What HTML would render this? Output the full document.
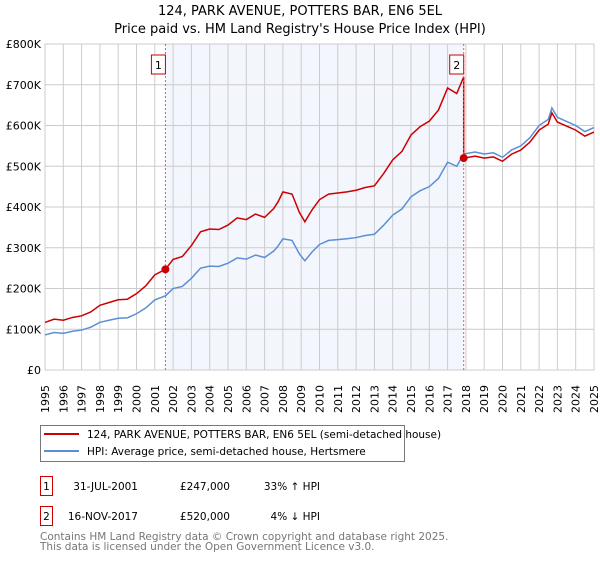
<!DOCTYPE html>
<html><head><meta charset="utf-8"><style>
body{margin:0;background:#fff;}
svg text{font-family:"DejaVu Sans","Liberation Sans",sans-serif;}
</style></head><body>
<svg width="600" height="560" xmlns="http://www.w3.org/2000/svg">
<text x="300" y="15" font-size="13" text-anchor="middle">124, PARK AVENUE, POTTERS BAR, EN6 5EL</text>
<text x="300" y="33" font-size="13" text-anchor="middle">Price paid vs. HM Land Registry's House Price Index (HPI)</text>
<g id="plot"></g>
<g>
<rect x="40.5" y="425.5" width="364" height="36" fill="#fff" stroke="#777"/>
<line x1="44" y1="434" x2="79" y2="434" stroke="#cc0000" stroke-width="2"/>
<text x="87" y="438" font-size="10.5">124, PARK AVENUE, POTTERS BAR, EN6 5EL (semi-detached house)</text>
<line x1="44" y1="451" x2="79" y2="451" stroke="#5b8fd4" stroke-width="2"/>
<text x="87" y="455" font-size="10.5">HPI: Average price, semi-detached house, Hertsmere</text>
</g>
<g font-size="10.5">
<rect x="40.5" y="476.5" width="12" height="19" fill="#fff" stroke="#cc0000"/>
<text x="46.5" y="490" text-anchor="middle">1</text>
<text x="138" y="490" text-anchor="end">31-JUL-2001</text>
<text x="230" y="490" text-anchor="end">£247,000</text>
<text x="320" y="490" text-anchor="end">33% ↑ HPI</text>
<rect x="40.5" y="506.5" width="12" height="19" fill="#fff" stroke="#cc0000"/>
<text x="46.5" y="520" text-anchor="middle">2</text>
<text x="138" y="520" text-anchor="end">16-NOV-2017</text>
<text x="230" y="520" text-anchor="end">£520,000</text>
<text x="320" y="520" text-anchor="end">4% ↓ HPI</text>
</g>
<text x="40" y="540" font-size="10.5" fill="#777">Contains HM Land Registry data © Crown copyright and database right 2025.</text>
<text x="40" y="550" font-size="10.5" fill="#777">This data is licensed under the Open Government Licence v3.0.</text>
</svg>
<script>
const hpiYears=[1995,1995.5,1996,1996.5,1997,1997.5,1998,1998.5,1999,1999.5,2000,2000.5,2001,2001.58,2002,2002.5,2003,2003.5,2004,2004.5,2005,2005.5,2006,2006.5,2007,2007.5,2007.75,2008,2008.5,2008.9,2009.2,2009.6,2010,2010.5,2011,2011.5,2012,2012.5,2013,2013.5,2014,2014.5,2015,2015.5,2016,2016.5,2017,2017.5,2017.88,2018.5,2019,2019.5,2020,2020.5,2021,2021.5,2022,2022.5,2022.7,2023,2023.5,2024,2024.5,2025];
const hpiValues=[86,92,90,95,98,105,117,122,127,128,138,152,172,182,200,205,225,250,255,254,262,275,272,282,276,292,305,322,318,285,268,290,308,318,320,322,325,330,333,355,380,395,425,440,450,470,510,500,530,535,530,533,522,540,550,570,600,615,643,620,610,600,585,595];
const sales=[{year:2001.58,price:247,label:"1"},{year:2017.88,price:520,label:"2"}];
const yTicks=[0,100,200,300,400,500,600,700,800];
const yTickLabels=["£0","£100K","£200K","£300K","£400K","£500K","£600K","£700K","£800K"];
const xTicks=[];for(let y=1995;y<=2025;y++)xTicks.push(y);

const L=45,R=594,T=44,B=370;
const xS=v=>L+(v-1995)/30*(R-L);
const yS=v=>B-v/800*(B-T);
const NS="http://www.w3.org/2000/svg";
const g=document.getElementById('plot');
function mk(t,a,p){const e=document.createElementNS(NS,t);for(const k in a)e.setAttribute(k,a[k]);(p||g).appendChild(e);return e;}
const shade=mk('rect',{x:xS(sales[0].year),y:T,width:xS(sales[1].year)-xS(sales[0].year),height:B-T,fill:'#f3f6fd'});


xTicks.forEach(v=>{const l=mk('line',{x1:xS(v),x2:xS(v),y1:T,y2:B,stroke:'#ccc','stroke-width':1});


const t=mk('text',{x:0,y:0,'font-size':11,'text-anchor':'end',transform:`translate(${xS(v)+4},${B+15}) rotate(-90)`});
t.textContent=v;

});
yTicks.forEach((v,i)=>{const l=mk('line',{x1:L,x2:R,y1:yS(v),y2:yS(v),stroke:'#ccc','stroke-width':1});


const t=mk('text',{x:L-4,y:yS(v)+4,'font-size':11,'text-anchor':'end'});
t.textContent=yTickLabels[i];

});
const ax=mk('rect',{x:L,y:T,width:R-L,height:B-T,fill:'none',stroke:'#ccc'});


function hpiAt(yr){for(let i=1;i<hpiYears.length;i++){if(yr<=hpiYears[i]){const f=(yr-hpiYears[i-1])/(hpiYears[i]-hpiYears[i-1]);return hpiValues[i-1]+f*(hpiValues[i]-hpiValues[i-1]);}}return hpiValues[hpiValues.length-1];}
// property series: HPI scaled relative to the latest sale
let pts=[];
hpiYears.forEach((yr,i)=>{let s=sales[0];sales.forEach(x=>{if(yr>=x.year)s=x;});
if(yr<sales[1].year){pts.push([xS(yr),yS(hpiValues[i]*s.price/hpiAt(s.year))]);}
});
pts.push([xS(sales[1].year),yS(hpiAt(sales[1].year)*sales[0].price/hpiAt(sales[0].year))]);
pts.push([xS(sales[1].year),yS(sales[1].price)]);
hpiYears.forEach((yr,i)=>{if(yr>sales[1].year)pts.push([xS(yr),yS(hpiValues[i]*sales[1].price/hpiAt(sales[1].year))]);});
const hp=mk('polyline',{points:hpiYears.map((y,i)=>xS(y)+','+yS(hpiValues[i])).join(' '),fill:'none',stroke:'#5b8fd4','stroke-width':1.5});


const pp=mk('polyline',{points:pts.map(p=>p.join(',')).join(' '),fill:'none',stroke:'#cc0000','stroke-width':1.5});


sales.forEach(s=>{const l=mk('line',{x1:xS(s.year),x2:xS(s.year),y1:T,y2:B,stroke:'#e55','stroke-dasharray':'2,2','stroke-width':1});


const c=mk('circle',{cx:xS(s.year),cy:yS(s.price),r:4,fill:'#cc0000'});


const b=mk('rect',{x:xS(s.year)-14,y:55,width:14,height:19,fill:'#fff',stroke:'#cc0000'});


const t=mk('text',{x:xS(s.year)-7,y:69,'font-size':11,'text-anchor':'middle'});
t.textContent=s.label;

});
</script>
</body></html>
